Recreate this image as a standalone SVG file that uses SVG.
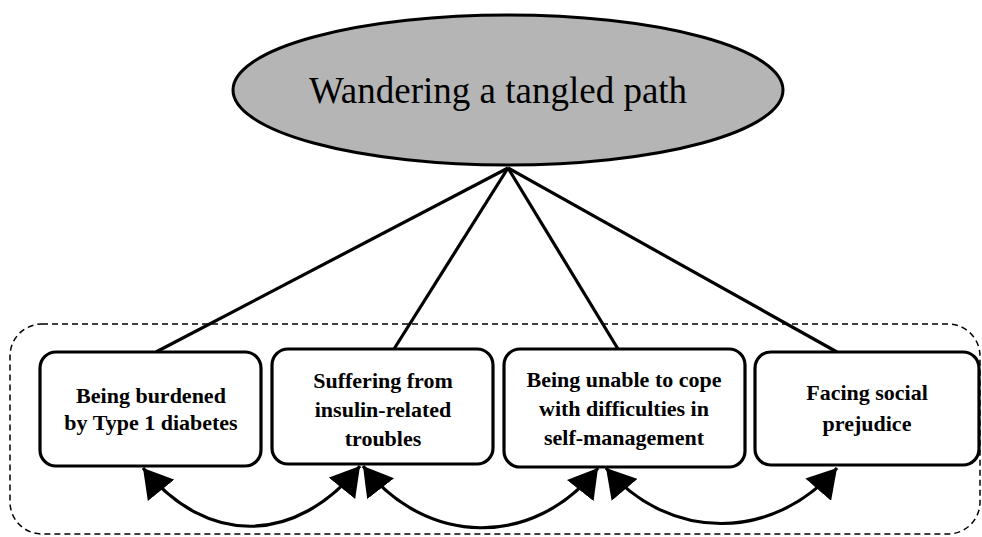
<svg xmlns="http://www.w3.org/2000/svg" width="982" height="537" viewBox="0 0 982 537">
<style>
.box{fill:#fff;stroke:#000;stroke-width:3.2}
.lbl{font-family:"Liberation Serif","Times New Roman",serif;font-weight:bold;font-size:22px;text-anchor:middle;fill:#000}
.ln{stroke:#000;stroke-width:3.2;fill:none}
.arc{stroke:#000;stroke-width:3.2;fill:none;marker-start:url(#ah);marker-end:url(#ah)}
</style>
<defs>
<marker id="ah" markerUnits="userSpaceOnUse" markerWidth="30" markerHeight="34" viewBox="0 0 28 32" refX="27" refY="16" orient="auto-start-reverse">
<path d="M0,0 L27,16 L0,32 Z" fill="#000"/>
</marker>
</defs>
<rect id="group-frame" x="10" y="324" width="970" height="210" rx="32" fill="none" stroke="#000" stroke-width="1.5" stroke-dasharray="6,4"/>
<g id="connectors">
<line class="ln" x1="508" y1="168" x2="156" y2="352"/>
<line class="ln" x1="508" y1="168" x2="394" y2="349"/>
<line class="ln" x1="508" y1="168" x2="618" y2="349"/>
<line class="ln" x1="508" y1="168" x2="837" y2="352"/>
<path class="arc" d="M143,468 C207,547 296,545 360,466"/>
<path class="arc" d="M363,466 C426,547 534,549 598,468"/>
<path class="arc" d="M606,468 C669,542 773,542 837,468"/>
</g>
<g id="root">
<ellipse cx="508" cy="90" rx="275" ry="75" fill="#b5b5b5" stroke="#000" stroke-width="3"/>
<text x="498" y="103" font-family="'Liberation Serif','Times New Roman',serif" font-size="37" text-anchor="middle" fill="#000">Wandering a tangled path</text>
</g>
<g id="node1">
<rect class="box" x="40" y="352" width="221" height="114" rx="16"/>
<text class="lbl" x="151" y="403">Being burdened</text>
<text class="lbl" x="151" y="430">by Type 1 diabetes</text>
</g>
<g id="node2">
<rect class="box" x="272" y="349" width="221" height="115" rx="16"/>
<text class="lbl" x="383" y="388">Suffering from</text>
<text class="lbl" x="383" y="417">insulin-related</text>
<text class="lbl" x="383" y="446">troubles</text>
</g>
<g id="node3">
<rect class="box" x="504" y="349" width="241" height="118" rx="16"/>
<text class="lbl" x="624" y="387">Being unable to cope</text>
<text class="lbl" x="624" y="416">with difficulties in</text>
<text class="lbl" x="624" y="445">self-management</text>
</g>
<g id="node4">
<rect class="box" x="755" y="352" width="224" height="113" rx="16"/>
<text class="lbl" x="867" y="400">Facing social</text>
<text class="lbl" x="867" y="431">prejudice</text>
</g>
</svg>
